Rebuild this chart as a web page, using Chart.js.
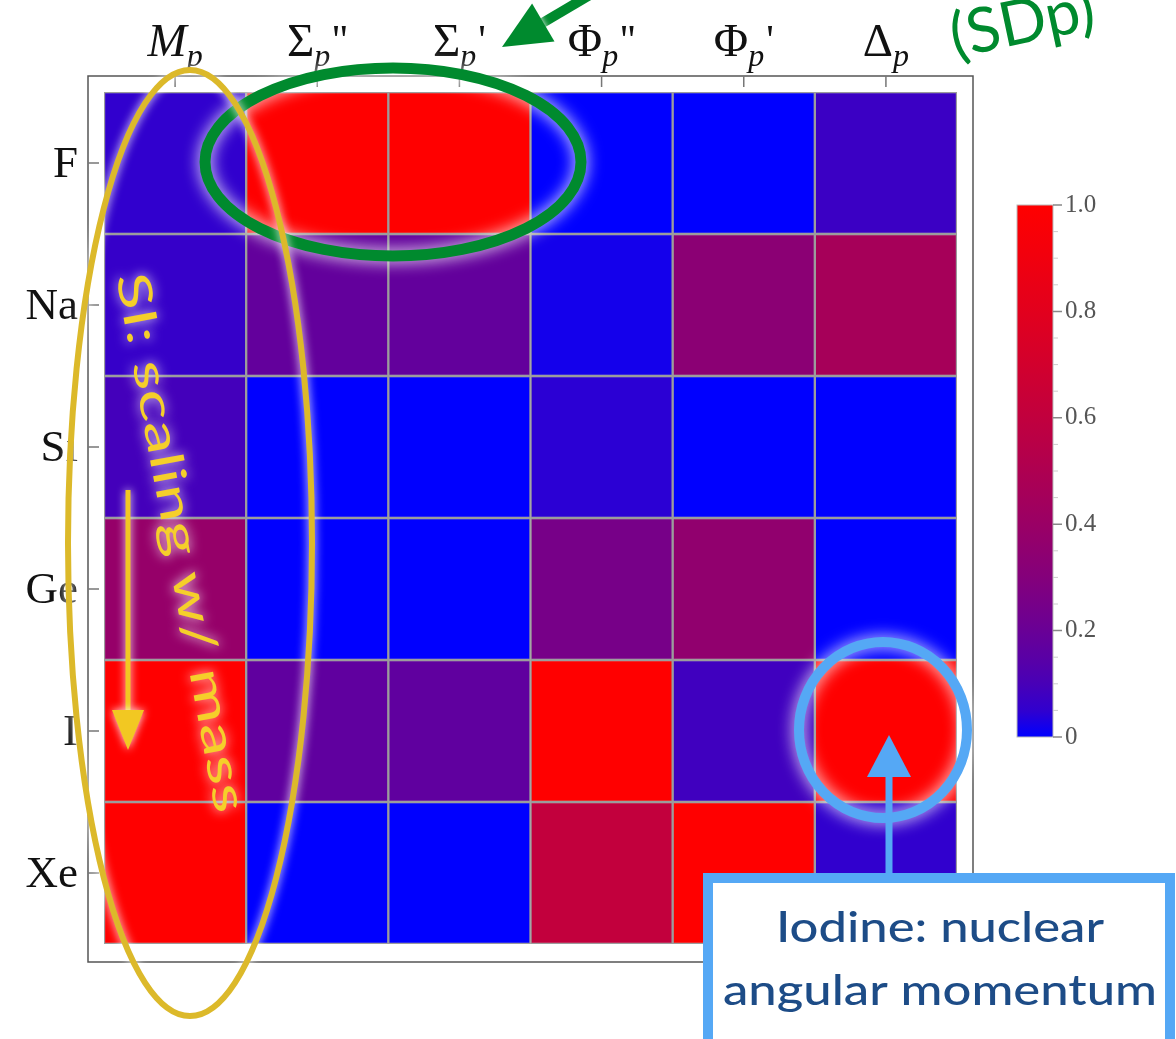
<!DOCTYPE html>
<html>
<head>
<meta charset="utf-8">
<script src="https://cdn.jsdelivr.net/npm/chart.js@4.4.0/dist/chart.umd.min.js"></script>
<style>
  html, body { margin: 0; padding: 0; background: #fff; }
  #wrap { width: 1176px; height: 1039px; }
</style>
</head>
<body>
<div id="wrap"><canvas id="heat" width="1176" height="1039"></canvas></div>
<script>
// rows (targets) top to bottom
const rows = ['F', 'Na', 'Si', 'Ge', 'I', 'Xe']
// column operators: main glyph, italic?, primes (all with subscript p)
const colGlyphs = ['M', 'Σ', 'Σ', 'Φ', 'Φ', 'Δ']
const colItalic = [true, false, false, false, false, false]
const colPrimes = ['', "''", "'", "''", "'", '']

// normalised response per row, columns Mp, Σp'', Σp', Φp'', Φp', Δp
const valF = [0.05, 1.0, 1.0, 0.0, 0.0, 0.07]
const valNa = [0.06, 0.18, 0.18, 0.01, 0.33, 0.46]
const valSi = [0.09, 0.0, 0.0, 0.04, 0.0, 0.0]
const valGe = [0.38, 0.0, 0.0, 0.25, 0.36, 0.0]
const valI = [1.0, 0.17, 0.17, 1.0, 0.08, 1.0]
const valXe = [1.0, 0.0, 0.0, 0.61, 1.0, 0.05]
const grid = [valF, valNa, valSi, valGe, valI, valXe]

// colour bar ticks
const cbMajor = [0, 0.2, 0.4, 0.6, 0.8, 1.0]
const cbLabels = ['0', '0.2', '0.4', '0.6', '0.8', '1.0']

function cellColor(v) {
	const f = Math.pow(Math.max(0, Math.min(1, v)), 0.55)
	return 'rgb(' + Math.round(255 * f) + ',0,' + Math.round(255 * (1 - f)) + ')'
}

function glow(ctx, blur) {
	ctx.shadowColor = 'rgba(255,255,255,0.95)'
	ctx.shadowBlur = blur
	ctx.shadowOffsetX = 0
	ctx.shadowOffsetY = 0
}

function arrow(ctx, x0, y0, x1, y1, width, headLen, headHalf, color) {
	const dx = x1 - x0, dy = y1 - y0
	const len = Math.hypot(dx, dy)
	const ux = dx / len, uy = dy / len
	const bx = x1 - ux * headLen, by = y1 - uy * headLen
	ctx.strokeStyle = color
	ctx.fillStyle = color
	ctx.lineWidth = width
	ctx.beginPath()
	ctx.moveTo(x0, y0)
	ctx.lineTo(bx + ux * 2, by + uy * 2)
	ctx.stroke()
	ctx.beginPath()
	ctx.moveTo(x1, y1)
	ctx.lineTo(bx - uy * headHalf, by + ux * headHalf)
	ctx.lineTo(bx + uy * headHalf, by - ux * headHalf)
	ctx.closePath()
	ctx.fill()
}

function fitText(ctx, text, x, y, targetWidth) {
	const w = ctx.measureText(text).width
	ctx.save()
	ctx.translate(x, y)
	ctx.scale(targetWidth / w, 1)
	ctx.textAlign = 'center'
	ctx.fillText(text, 0, 0)
	ctx.restore()
}

const framePlugin = {
	id: 'frameAndNotes',
	afterDraw(chart) {
		const ctx = chart.ctx
		const a = chart.chartArea
		const xs = chart.scales.x
		const ys = chart.scales.y
		const pad = 16
		const fl = a.left - pad, ft = a.top - pad, fr = a.right + pad, fb = a.bottom + 18

		ctx.save()
		// frame
		ctx.strokeStyle = '#555'
		ctx.lineWidth = 1.5
		ctx.strokeRect(fl, ft, fr - fl, fb - ft)
		ctx.strokeStyle = '#777'
		ctx.lineWidth = 1.5
		ctx.beginPath()
		for (let i = 0; i < colGlyphs.length; i++) {
			const x = xs.getPixelForValue(i)
			ctx.moveTo(x, ft)
			ctx.lineTo(x, ft + 11)
		}
		for (let i = 0; i < rows.length; i++) {
			const y = ys.getPixelForValue(i)
			ctx.moveTo(fl, y)
			ctx.lineTo(fl + 11, y)
		}
		ctx.stroke()

		// row labels
		ctx.fillStyle = '#111'
		ctx.font = '45px "Liberation Serif"'
		ctx.textAlign = 'right'
		ctx.textBaseline = 'middle'
		rows.forEach((r, i) => ctx.fillText(r, fl - 10, ys.getPixelForValue(i) + 2))

		// column labels with subscript p
		ctx.textBaseline = 'alphabetic'
		ctx.textAlign = 'left'
		colGlyphs.forEach((g, i) => {
			const mainFont = (colItalic[i] ? 'italic ' : '') + '47px "Liberation Serif"'
			const subFont = 'italic 32px "Liberation Serif"'
			const primeFont = '42px "Liberation Serif"'
			ctx.font = mainFont
			const wm = ctx.measureText(g).width
			ctx.font = subFont
			const ws = ctx.measureText('p').width
			ctx.font = primeFont
			const wp = colPrimes[i] ? ctx.measureText(colPrimes[i]).width + 2 : 0
			const total = wm + ws + wp
			let x = xs.getPixelForValue(i) - total / 2
			const base = 56
			ctx.font = mainFont
			ctx.fillText(g, x, base)
			x += wm
			ctx.font = subFont
			ctx.fillText('p', x, base + 10)
			x += ws + 2
			if (colPrimes[i]) {
				ctx.font = primeFont
				ctx.fillText(colPrimes[i], x, base - 2)
			}
		})

		// colour bar
		const cbL = 1017, cbR = 1053, cbT = 205, cbB = 737
		const grad = ctx.createLinearGradient(0, cbB, 0, cbT)
		for (let k = 0; k <= 20; k++) grad.addColorStop(k / 20, cellColor(k / 20))
		ctx.fillStyle = grad
		ctx.fillRect(cbL, cbT, cbR - cbL, cbB - cbT)
		ctx.strokeStyle = '#bbb'
		ctx.lineWidth = 1
		ctx.strokeRect(cbL, cbT, cbR - cbL, cbB - cbT)
		const cbY = (v) => cbB - v * (cbB - cbT)
		ctx.strokeStyle = '#ccc'
		ctx.beginPath()
		for (let k = 0; k <= 20; k++) {
			if (k % 4 === 0) continue
			ctx.moveTo(cbR, cbY(k / 20))
			ctx.lineTo(cbR + 5, cbY(k / 20))
		}
		ctx.stroke()
		ctx.strokeStyle = '#888'
		ctx.lineWidth = 1.5
		ctx.beginPath()
		cbMajor.forEach((v) => {
			ctx.moveTo(cbR, cbY(v))
			ctx.lineTo(cbR + 9, cbY(v))
		})
		ctx.stroke()
		ctx.fillStyle = '#555'
		ctx.font = '25px "Liberation Serif"'
		ctx.textAlign = 'left'
		ctx.textBaseline = 'middle'
		cbMajor.forEach((v, k) => ctx.fillText(cbLabels[k], cbR + 12, cbY(v)))

		// green ellipse around the spin-dependent columns
		ctx.save()
		glow(ctx, 16)
		ctx.strokeStyle = '#008a2e'
		ctx.lineWidth = 11
		ctx.beginPath()
		ctx.ellipse(393, 162, 188, 94, 0, 0, Math.PI * 2)
		ctx.stroke()
		ctx.restore()

		// yellow ellipse around Mp column
		ctx.save()
		glow(ctx, 10)
		ctx.strokeStyle = '#dcb92a'
		ctx.lineWidth = 6
		ctx.beginPath()
		ctx.ellipse(190, 543, 122, 473, 0, 0, Math.PI * 2)
		ctx.stroke()
		ctx.restore()

		// yellow rotated note
		ctx.save()
		glow(ctx, 12)
		ctx.fillStyle = '#f5cf2a'
		ctx.font = '46px Lato'
		ctx.textBaseline = 'alphabetic'
		ctx.textAlign = 'left'
		ctx.translate(116, 276)
		ctx.rotate(79.5 * Math.PI / 180)
		const note = 'SI: scaling w/ mass'
		const nw = ctx.measureText(note).width
		ctx.scale(548 / nw, 1)
		ctx.fillText(note, 0, 0)
		ctx.restore()

		// yellow arrow
		ctx.save()
		glow(ctx, 8)
		arrow(ctx, 128, 490, 128, 750, 5, 40, 16, '#f2c822')
		ctx.restore()

		// blue circle + arrow + box
		ctx.save()
		glow(ctx, 16)
		ctx.strokeStyle = '#55a8f5'
		ctx.lineWidth = 10
		ctx.beginPath()
		ctx.ellipse(883, 730, 84, 88, 0, 0, Math.PI * 2)
		ctx.stroke()
		ctx.restore()

		ctx.save()
		arrow(ctx, 889, 880, 889, 735, 7, 42, 22, '#55a8f5')
		ctx.fillStyle = '#fff'
		ctx.fillRect(703, 873, 476, 170)
		ctx.strokeStyle = '#55a8f5'
		ctx.lineWidth = 10
		ctx.strokeRect(708, 878, 462, 170)
		ctx.fillStyle = '#1d4c87'
		ctx.font = '500 43px Lato'
		ctx.textBaseline = 'alphabetic'
		fitText(ctx, 'Iodine: nuclear', 940, 942, 328)
		fitText(ctx, 'angular momentum', 940, 1005, 434)
		ctx.restore()

		// green arrow and label at the top
		ctx.save()
		glow(ctx, 6)
		arrow(ctx, 605, -14, 502, 47, 10, 48, 22, '#008a2e')
		ctx.fillStyle = '#008a2e'
		ctx.font = '62px Lato'
		ctx.textAlign = 'left'
		ctx.textBaseline = 'alphabetic'
		ctx.translate(955, 58)
		ctx.rotate(-12 * Math.PI / 180)
		ctx.fillText('(SDp)', 0, 0)
		ctx.restore()

		ctx.restore()
	},
}

const ctx = document.getElementById('heat').getContext('2d')

new Chart(ctx, {
	type: 'bar',
	data: {
		labels: colGlyphs.map((g, i) => g + 'p' + colPrimes[i]),
		datasets: rows.map((r, i) => ({
			label: r,
			data: colGlyphs.map(() => [i - 0.5, i + 0.5]),
			backgroundColor: grid[i].map(cellColor),
			borderColor: '#9c9c9c',
			borderWidth: 1.5,
			borderSkipped: false,
			grouped: false,
			barPercentage: 1,
			categoryPercentage: 1,
		})),
	},
	options: {
		responsive: false,
		devicePixelRatio: 1,
		animation: false,
		layout: {
			padding: { left: 104, top: 92, right: 219, bottom: 95 },
		},
		plugins: {
			legend: { display: false },
			tooltip: { enabled: false },
		},
		scales: {
			x: {
				type: 'category',
				display: false,
			},
			y: {
				type: 'linear',
				display: false,
				min: -0.5,
				max: 5.5,
				reverse: true,
			},
		},
	},
	plugins: [framePlugin],
})
</script>
</body>
</html>
